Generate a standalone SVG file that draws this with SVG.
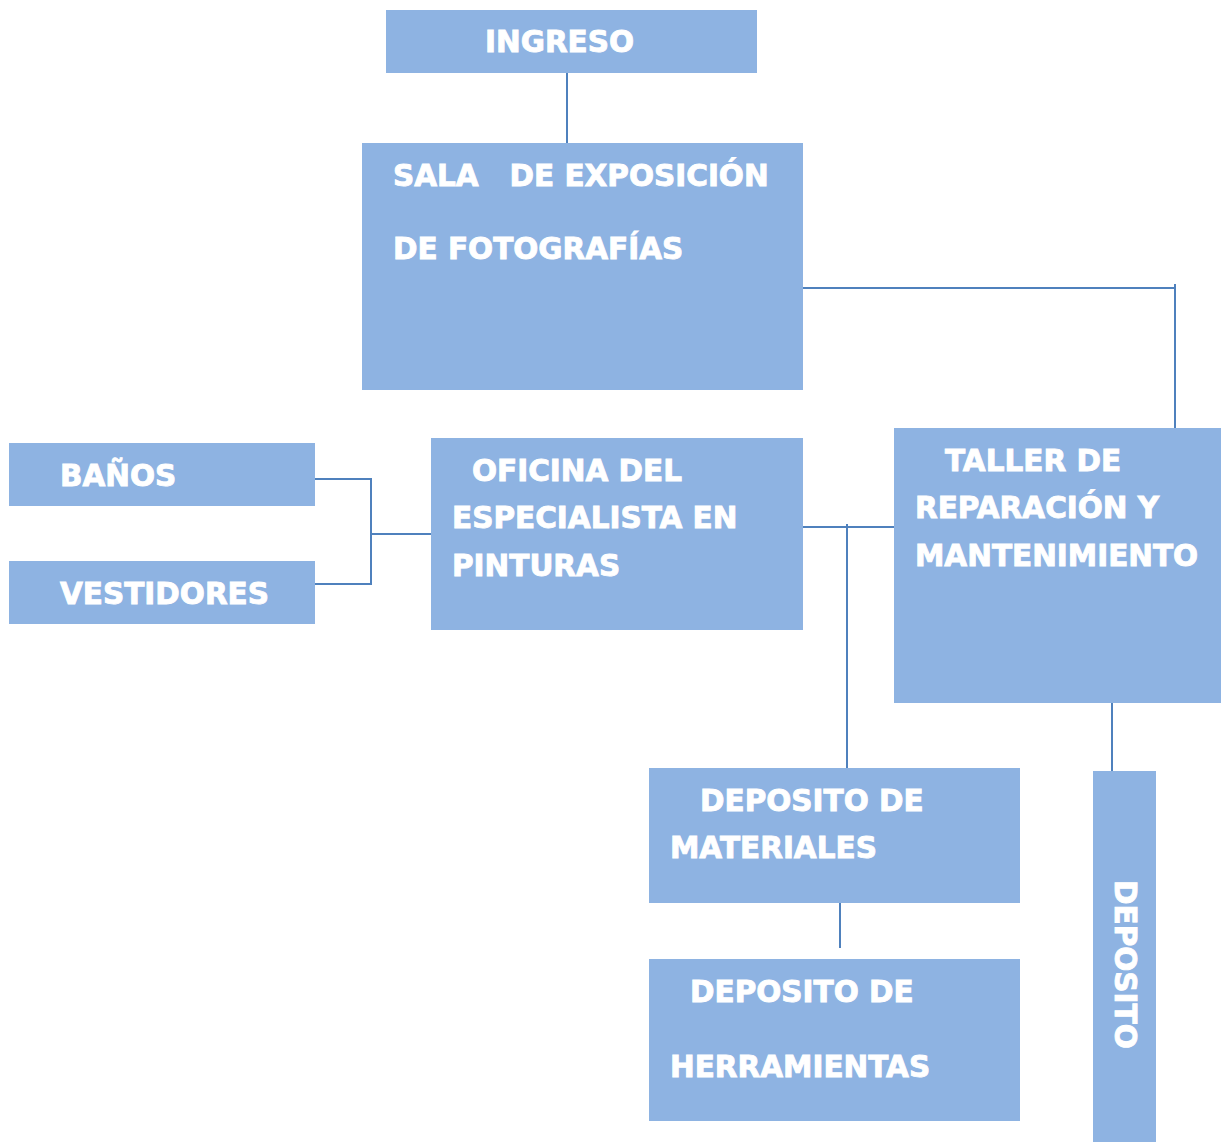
<svg xmlns="http://www.w3.org/2000/svg" width="1223" height="1142" viewBox="0 0 1223 1142">
<style>
.box{fill:#8EB3E2;}
.t{font-family:"DejaVu Sans",Verdana,sans-serif;font-weight:bold;font-size:29.5px;fill:#ffffff;stroke:#ffffff;stroke-width:0.9;}
.c{stroke:#4F81BD;stroke-width:2;fill:none;}
</style>
<rect width="1223" height="1142" fill="#ffffff"/>
<g id="connectors">
<path class="c" d="M567 73V143"/>
<path class="c" d="M803 288H1175M1175 284V428"/>
<path class="c" d="M315 479H371V584H315M371 534H431"/>
<path class="c" d="M803 527H894M847 524V768"/>
<path class="c" d="M840 903V948"/>
<path class="c" d="M1112 703V771"/>
</g>
<g id="ingreso"><rect class="box" x="386" y="10" width="371" height="63"/><text class="t" x="485" y="52">INGRESO</text></g>
<g id="sala"><rect class="box" x="362" y="143" width="441" height="247"/><text class="t" x="393" y="186" xml:space="preserve">SALA   DE EXPOSICIÓN</text><text class="t" x="393" y="259">DE FOTOGRAFÍAS</text></g>
<g id="banos"><rect class="box" x="9" y="443" width="306" height="63"/><text class="t" x="60" y="486">BAÑOS</text></g>
<g id="vestidores"><rect class="box" x="9" y="561" width="306" height="63"/><text class="t" x="60" y="604">VESTIDORES</text></g>
<g id="oficina"><rect class="box" x="431" y="438" width="372" height="192"/><text class="t" x="472" y="481">OFICINA DEL</text><text class="t" x="452" y="528">ESPECIALISTA EN</text><text class="t" x="452" y="576">PINTURAS</text></g>
<g id="taller"><rect class="box" x="894" y="428" width="327" height="275"/><text class="t" x="945" y="471">TALLER DE</text><text class="t" x="915" y="518">REPARACIÓN Y</text><text class="t" x="915" y="566">MANTENIMIENTO</text></g>
<g id="dep-materiales"><rect class="box" x="649" y="768" width="371" height="135"/><text class="t" x="700" y="811">DEPOSITO DE</text><text class="t" x="670" y="858">MATERIALES</text></g>
<g id="dep-herramientas"><rect class="box" x="649" y="959" width="371" height="162"/><text class="t" x="690" y="1002">DEPOSITO DE</text><text class="t" x="670" y="1077">HERRAMIENTAS</text></g>
<g id="deposito"><rect class="box" x="1093" y="771" width="63" height="371"/><text class="t" transform="translate(1115 880) rotate(90)" x="0" y="0">DEPOSITO</text></g>
</svg>
